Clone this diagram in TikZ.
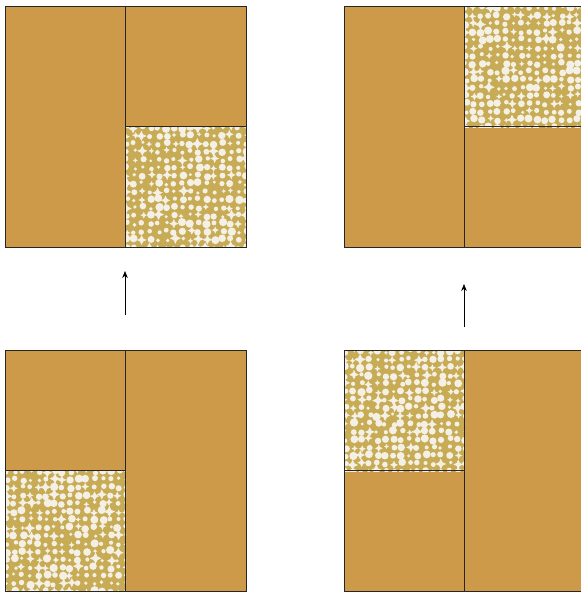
\documentclass[tikz,border=0pt]{standalone}
\usetikzlibrary{arrows.meta}
\definecolor{tan}{HTML}{CC9A48}
\definecolor{patbg}{HTML}{C8AC55}
\definecolor{dotc}{HTML}{F4F0E6}
\tikzset{
  block/.style={fill=tan},
  edge/.style={draw=black!85,line width=0.8pt},
  arr/.style={-{Stealth[length=7pt,width=5.5pt]},line width=0.6pt,black}
}
\newcommand\mypatch[2]{%
  \begin{scope}
    \clip (#1,#2) rectangle ++(121,121);
    \fill[patbg] (#1,#2) rectangle ++(121,121);
    \foreach \i in {0,...,15}{\foreach \j in {0,...,15}{
      \pgfmathsetmacro\px{#1+\i*8+rnd*3}
      \pgfmathsetmacro\py{#2+\j*8+rnd*3}
      \pgfmathsetmacro\rr{1.6+rnd*2.6}
      \pgfmathsetmacro\kind{rnd}
      \ifdim\kind pt<0.75pt
        \fill[dotc] (\px,\py) circle[radius=\rr];
      \else
        \fill[dotc] ({\px},{\py-1.4*\rr}) -- ({\px+0.45*\rr},{\py-0.45*\rr}) -- ({\px+1.4*\rr},{\py}) -- ({\px+0.45*\rr},{\py+0.45*\rr}) -- ({\px},{\py+1.4*\rr}) -- ({\px-0.45*\rr},{\py+0.45*\rr}) -- ({\px-1.4*\rr},{\py}) -- ({\px-0.45*\rr},{\py-0.45*\rr}) -- cycle;
      \fi
    }}
  \end{scope}}
\begin{document}
\begin{tikzpicture}[x=1pt,y=-1pt]
\pgfmathsetseed{7}
\useasboundingbox (0,0) rectangle (581,592);
% top-left
\fill[block] (5,6) rectangle (246,247);
\mypatch{125}{126}
\draw[edge] (5,6) rectangle (246,247);
\draw[edge] (125,6) -- (125,247);
\draw[edge] (125,126) -- (246,126);
% top-right
\fill[block] (344,6) rectangle (586,247);
\mypatch{464}{6}
\draw[edge] (344,6) rectangle (586,247);
\draw[edge] (464,6) -- (464,247);
\draw[edge] (464,126) -- (586,126);
% bottom-left
\fill[block] (5,350) rectangle (246,591);
\mypatch{5}{470}
\draw[edge] (5,350) rectangle (246,591);
\draw[edge] (125,350) -- (125,591);
\draw[edge] (5,470) -- (125,470);
% bottom-right
\fill[block] (344,350) rectangle (586,591);
\mypatch{344}{350}
\draw[edge] (344,350) rectangle (586,591);
\draw[edge] (464,350) -- (464,591);
\draw[edge] (344,470) -- (464,470);
% arrows
\coordinate (a1s) at (125,315);
\coordinate (a1e) at (125,271);
\coordinate (a2s) at (464,327);
\coordinate (a2e) at (464,284);
\draw[arr] (a1s) -- (a1e);
\draw[arr] (a2s) -- (a2e);
\end{tikzpicture}
\end{document}
